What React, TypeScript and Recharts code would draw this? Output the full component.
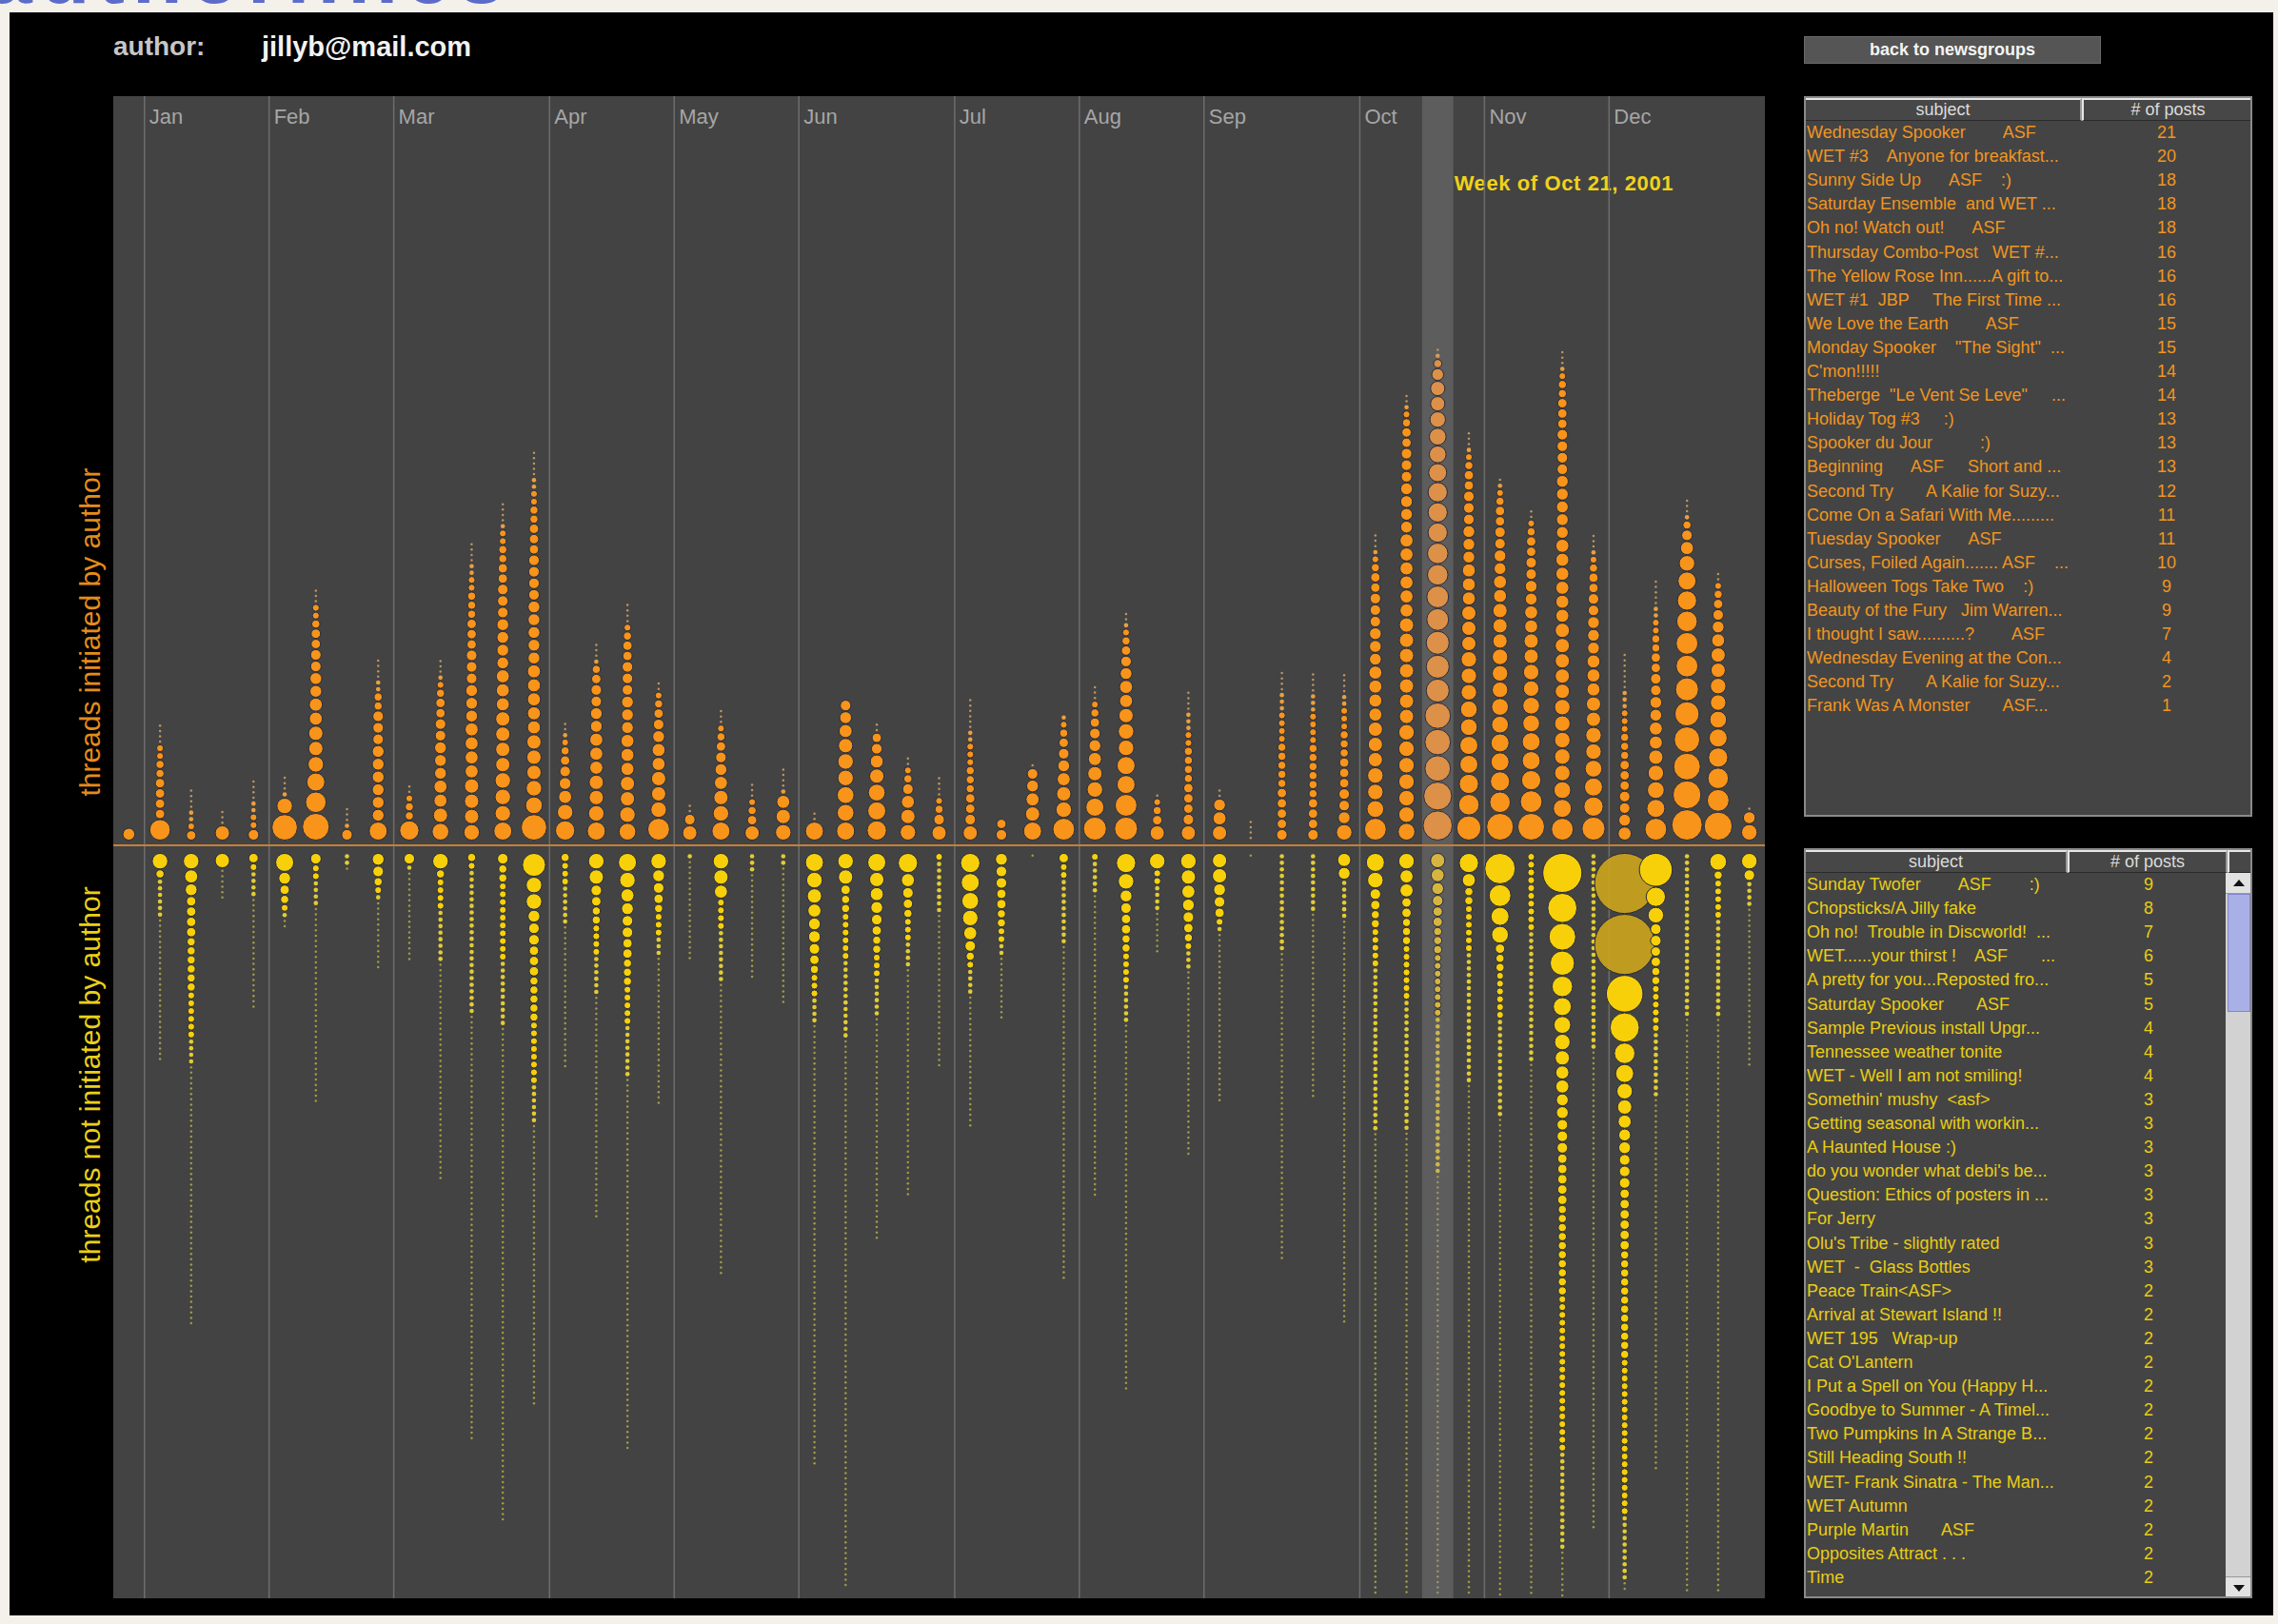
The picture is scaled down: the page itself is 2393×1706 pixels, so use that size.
import React from 'react';
import { ScatterChart, Scatter, XAxis, YAxis, ReferenceLine, ReferenceArea } from 'recharts';

// ---------------- data ----------------
const MONTHS = ['Jan', 'Feb', 'Mar', 'Apr', 'May', 'Jun', 'Jul', 'Aug', 'Sep', 'Oct', 'Nov', 'Dec'];
const MONTH_START_WEEK = [1, 5, 9, 14, 18, 22, 27, 31, 35, 40, 44, 48];
const WEEK_COUNT = 53;
const HIGHLIGHT_WEEK = 42;
const HIGHLIGHT_LABEL = 'Week of Oct 21, 2001';
const AUTHOR = 'jillyb@mail.com';

// posts per thread, per week ("v" or "v x count"); threads initiated by the author
const UPPER_THREADS: string[] = [
  '7',
  '14,5x4,4x2,3x2,1x4',
  '5,3,2x2,1x4',
  '9,1x3',
  '6,3x2,2x2,1x4',
  '18,10,2,1x3',
  '19,14,12,10,9x2,8x2,7x2,6x2,5x2,4,3x2,1x3',
  '6,2,1x3',
  '12,7x6,6x3,4x2,2x2,1x4',
  '13,4x2,3,1x2',
  '11,9,8x2,7x3,6x2,5x2,4,3,2,1x3',
  '10,9x3,8x4,7x3,6x3,5x3,4x3,3x2,2x2,1x4',
  '12,10x3,9x4,8x3,7x4,6x3,5x2,4x2,3x2,2,1x4',
  '18,11,10,9x3,8x5,7x5,6x4,5x3,4x2,3x2,2x2,1x5',
  '13,10,8,7,6,5,4,3,2,1x2',
  '12,10,9x2,8x3,7x2,6x2,5,4,2,1x3',
  '11,10,9x2,8x3,7x3,6x3,5x2,4,3,1x4',
  '15,10,9x2,8x2,7,6,5,4,3,1x2',
  '9,6,1x2',
  '12,10,9,8,7,6,5,4,3,1x3',
  '9,5,4,3,1x3',
  '10,9,8,2,1x4',
  '12,1x2',
  '12,11x2,10x2,9,8,7,6',
  '13,12,11,9,8,6,5,1x2',
  '10,9,8,6,4,3,1x2',
  '9,6,4,3,1x4',
  '9,6,5x2,4x3,3x3,2x2,1x6',
  '6,5',
  '12,9,8,7,6,1',
  '15,10,9,8,7,6,5,4,3,2',
  '16,12,10,9,8,7,6,5,4,3,1x3',
  '16,15,12x2,10x2,9,8x2,7,6,5,4,3,2,1x2',
  '9,5,4,3,1',
  '9,6,5x3,4x4,3x2,2x3,1x4',
  '9,8,7,1x2',
  '1x4',
  '6,5x4,4x5,3x4,2x3,1x4',
  '6,5x3,4x6,3x4,2x3,1x4',
  '10,7,6x2,5x3,4x3,3x3,2x2,1x4',
  '15,11,10x2,9x3,8x4,7x3,6x3,5x2,4,3,2,1x3',
  '11,10x6,9x7,8x6,7x4,6x3,5x2,4,3,2,1x2',
  '21,20,18x3,16x3,15x2,14x2,13x3,12,11x2,10,9x2,7,4,2,1',
  '17,14,13,12x2,11x2,10x3,9x3,8x3,7x3,6x3,5x2,4,3,2,1x3',
  '19,14,13,12x2,11x2,10x3,9x3,8x2,7x2,6x2,5x2,4,3,2,1',
  '19,15,13,12x2,11x2,10x2,9x2,8x2,7x2,6x2,5x2,4,3,1x2',
  '15,12,11,10x5,9x5,8x6,7x5,6x4,5x3,4x2,3,2,1x3',
  '16,13,12,11,10x2,9x2,8x3,7x3,6x2,5x2,4,3,2,1x3',
  '8,7,6x2,5x3,4x3,3x3,2x3,1x7',
  '15,12,11,10,9,8x2,7x2,6x2,5x2,4x2,3x2,2x2,1x5',
  '22,20,19,18,17,16,15x2,14,13,12,10,8,6,4,2,1x3',
  '20,15,14,13,12,11,10x2,9x2,8,7,6,5,4,3,1x2',
  '10,7,1',
];

// threads not initiated by the author
const LOWER_THREADS: string[] = [
  '',
  '10,4,2x6,1x27',
  '10,8,7,5x4,4x6,3x6,2x4,1x49',
  '9,1x6',
  '5,3,2x4,1x21',
  '12,7,5,4,3,2,1x2',
  '6,3x2,2x4,1x37',
  '2x2,1',
  '7,6,4,3,2,1x13',
  '6,2,1x17',
  '10,4,3x4,2x8,1x41',
  '4,3,2x22,1x80',
  '6,4x2,3x10,2x10,1x93',
  '16,10x2,7,6x2,5x3,4x5,3x8,2x6,1x53',
  '4,3x3,2x6,1x27',
  '10,9,6,5,4x2,3x4,2x6,1x42',
  '12,10,8,7,6x2,5x2,4x3,3x5,2x8,1x70',
  '10,7,6,5,4,3x3,2x3,1x28',
  '2,1x19',
  '10,9,8,3x4,2x8,1x55',
  '2x3,1x20',
  '2x2,1x26',
  '12,10,9,8,7x2,6,5,4,3x3,2x4,1x83',
  '10,9,5,4x2,3x6,2x12,1x103',
  '12,9,8,7,6,5,4x2,3x3,2x6,1x42',
  '13,8,6,5,4,3x3,2x4,1x43',
  '3,2x8,1x29',
  '13,12,11,10,8,6,4,3,2x4,1x25',
  '7,6x2,5x2,4x2,3x2,2x2,1x12',
  '1',
  '5,3x2,2x10,1x63',
  '3,2x5,1x57',
  '13,10,7,6,5x2,4x2,3x4,2x6,1x69',
  '10,3x2,2x4,1x8',
  '10,9,8,7,6,5,4,3,2x3,1x35',
  '9x2,7,6,5,3,2,1x32',
  '1',
  '2x15,1x58',
  '2x9,1x35',
  '8,7,2x6,1x76',
  '12,10,6,5,4x2,3x5,2x25,1x87',
  '10,8x2,5x2,4x3,3x7,2x20,1x87',
  '9,8,7,6,5x2,4x3,3x8,2x24,1x79',
  '13,8,4x2,3x6,2x20,1x96',
  '22,15,12,11,5,4x2,3x6,2x15,1x90',
  '3x10,2x20,1x100',
  '29,21,19,17,14,12,11,10,9,8x2,7x2,6x3,5x5,4x10,3x20,2x15,1x9',
  '2x30,1x90',
  '46x2,27,21,14,12,10,9,8,7x2,6x3,5x6,4x12,3x20,2x10,1x2',
  '24,13,10,6x2,5x2,4x2,3x6,2x10,1x70',
  '2x25,1x108',
  '11,4,3x5,2x15,1x108',
  '10,6,2x4,1x30',
];

const TOP_SUBJECTS = [
  'Wednesday Spooker        ASF',
  'WET #3    Anyone for breakfast...',
  'Sunny Side Up      ASF    :)',
  'Saturday Ensemble  and WET ...',
  'Oh no! Watch out!      ASF',
  'Thursday Combo-Post   WET #...',
  'The Yellow Rose Inn......A gift to...',
  'WET #1  JBP     The First Time ...',
  'We Love the Earth        ASF',
  'Monday Spooker    "The Sight"  ...',
  "C'mon!!!!!",
  'Theberge  "Le Vent Se Leve"     ...',
  'Holiday Tog #3     :)',
  'Spooker du Jour          :)',
  'Beginning      ASF     Short and ...',
  'Second Try       A Kalie for Suzy...',
  'Come On a Safari With Me.........',
  'Tuesday Spooker      ASF',
  'Curses, Foiled Again....... ASF    ...',
  'Halloween Togs Take Two    :)',
  'Beauty of the Fury   Jim Warren...',
  'I thought I saw..........?        ASF',
  'Wednesday Evening at the Con...',
  'Second Try       A Kalie for Suzy...',
  'Frank Was A Monster       ASF...',
];
const TOP_POSTS = [21, 20, 18, 18, 18, 16, 16, 16, 15, 15, 14, 14, 13, 13, 13, 12, 11, 11, 10, 9, 9, 7, 4, 2, 1];

const BOTTOM_SUBJECTS = [
  'Sunday Twofer        ASF        :)',
  'Chopsticks/A Jilly fake',
  'Oh no!  Trouble in Discworld!  ...',
  'WET......your thirst !    ASF       ...',
  'A pretty for you...Reposted fro...',
  'Saturday Spooker       ASF',
  'Sample Previous install Upgr...',
  'Tennessee weather tonite',
  'WET - Well I am not smiling!',
  "Somethin' mushy  <asf>",
  'Getting seasonal with workin...',
  'A Haunted House :)',
  "do you wonder what debi's be...",
  'Question: Ethics of posters in ...',
  'For Jerry',
  "Olu's Tribe - slightly rated",
  'WET  -  Glass Bottles',
  'Peace Train<ASF>',
  'Arrival at Stewart Island !!',
  'WET 195   Wrap-up',
  "Cat O'Lantern",
  'I Put a Spell on You (Happy H...',
  'Goodbye to Summer - A Timel...',
  'Two Pumpkins In A Strange B...',
  'Still Heading South !!',
  'WET- Frank Sinatra - The Man...',
  'WET Autumn',
  'Purple Martin       ASF',
  'Opposites Attract . . .',
  'Time',
];
const BOTTOM_POSTS = [9, 8, 7, 6, 5, 5, 4, 4, 4, 3, 3, 3, 3, 3, 3, 3, 3, 2, 2, 2, 2, 2, 2, 2, 2, 2, 2, 2, 2, 2];

// ---------------- layout / style ----------------
const PLOT_LEFT = 119;
const PLOT_TOP = 101;
const PLOT_W = 1735;
const PLOT_H = 1578;
const BASE_FROM_TOP = 787;
const PITCH_BASE = 4.3; // px per thread
const PITCH_PER_POST = 1.3; // px per post
const UP_OFFSET = 5;
const DOWN_OFFSET = 8;
const FONT = '"Liberation Sans", Arial, Helvetica, sans-serif';

type Pt = { x: number; y: number; n: number; p: number; week: number; up: boolean };

const expand = (spec: string): number[] =>
  spec.trim() === ''
    ? []
    : spec.split(',').flatMap((tok) => {
        const [v, c] = tok.split('x');
        return Array(c ? Number(c) : 1).fill(Number(v));
      });

function stack(specs: string[], up: boolean): Pt[] {
  const pts: Pt[] = [];
  specs.forEach((spec, week) => {
    let acc = up ? UP_OFFSET : DOWN_OFFSET;
    for (const n of expand(spec)) {
      const p = PITCH_BASE + PITCH_PER_POST * n;
      const y = acc + p / 2;
      pts.push({ x: week + 0.5, y: up ? y : -y, n, p, week, up });
      acc += p;
    }
  });
  return pts;
}

const upperPts = stack(UPPER_THREADS, true);
const lowerPts = stack(LOWER_THREADS, false);

const Dot = (props: any) => {
  const { cx, cy, payload } = props;
  if (cx == null || cy == null || !payload) return null;
  const p = payload as Pt;
  const hl = p.week === HIGHLIGHT_WEEK;
  let d = p.p - 0.9;
  if (p.n === 1) d = 2.5;
  else if (p.n === 2) d = 4.6;
  let fill: string;
  let op = 1;
  if (p.up) {
    fill = hl ? '#dc9048' : '#f8941a';
    if (p.n === 1) { fill = hl ? '#cfa27a' : '#dcaa6a'; op = 0.8; }
    else if (p.n === 2) { fill = hl ? '#d89a5a' : '#eaa040'; }
  } else {
    fill = hl ? '#d6b440' : '#f8d00a';
    if (p.n >= 40) { fill = '#c9a31e'; op = 0.93; }
    if (p.n === 1) { fill = hl ? '#b0a670' : '#bfb84a'; op = 0.75; }
    else if (p.n === 2) { fill = hl ? '#cdb650' : '#e2cc34'; }
  }
  return (
    <circle
      cx={cx}
      cy={cy}
      r={d / 2}
      fill={fill}
      fillOpacity={op}
      stroke={p.n >= 3 ? '#262b3c' : 'none'}
      strokeWidth={p.n >= 3 ? 1 : 0}
    />
  );
};

const monthLabel = (text: string) => (props: any) => {
  const vb = props.viewBox || {};
  return (
    <text x={(vb.x ?? 0) + 5} y={(vb.y ?? 0) + 29} fill="#a6a6a6" fontSize={22} fontFamily={FONT}>
      {text}
    </text>
  );
};

const weekLabel = (props: any) => {
  const vb = props.viewBox || {};
  return (
    <text
      x={(vb.x ?? 0) + (vb.width ?? 0) + 1}
      y={(vb.y ?? 0) + 99}
      fill="#f0d21a"
      fontSize={22}
      fontWeight={700}
      letterSpacing={0.6}
      fontFamily={FONT}
    >
      {HIGHLIGHT_LABEL}
    </text>
  );
};

const headerCell = (left: number, width: number, text: string): React.ReactNode => (
  <div
    style={{
      position: 'absolute',
      left,
      top: 0,
      width,
      height: 24,
      boxSizing: 'border-box',
      background: '#474747',
      borderTop: '2px solid #e6e6e6',
      borderLeft: '2px solid #e6e6e6',
      borderRight: '2px solid #9a9a9a',
      borderBottom: '1px solid #2a2a2a',
      color: '#dcdcdc',
      fontSize: 18,
      lineHeight: '21px',
      textAlign: 'center',
    }}
  >
    {text}
  </div>
);

function ThreadTable(props: {
  left: number; top: number; width: number; height: number;
  subjW: number; postsCenter: number; subjects: string[]; posts: number[]; color: string; scroll: boolean;
}) {
  const { left, top, width, height, subjW, postsCenter, subjects, posts, color, scroll } = props;
  const rowH = 25.1;
  const headTop = 24;
  const postsW = (scroll ? width - 28 : width) - subjW - 2;
  return (
    <div
      style={{
        position: 'absolute', left, top, width, height, background: '#444444',
        boxSizing: 'border-box', border: '2px solid #8a8a8a', overflow: 'hidden', fontFamily: FONT,
      }}
    >
      {headerCell(-2, subjW + 2, 'subject')}
      {headerCell(subjW, postsW + 2, '# of posts')}
      {scroll && headerCell(subjW + postsW + 2, 30, '')}
      {subjects.map((s, i) => (
        <div key={i}>
          <div
            style={{
              position: 'absolute', left: 1, top: headTop + i * rowH, width: subjW - 2, height: rowH,
              whiteSpace: 'pre', overflow: 'hidden', color, fontSize: 18, lineHeight: `${rowH}px`,
            }}
          >
            {s}
          </div>
          <div
            style={{
              position: 'absolute', left: postsCenter - 40, top: headTop + i * rowH, width: 80, height: rowH,
              textAlign: 'center', color, fontSize: 18, lineHeight: `${rowH}px`,
            }}
          >
            {posts[i]}
          </div>
        </div>
      ))}
      {scroll && (
        <div style={{ position: 'absolute', left: width - 30, top: 24, width: 28, height: height - 26, background: '#d2d2d2' }}>
          <div style={{ position: 'absolute', left: 0, top: 0, width: 28, height: 21, background: '#e2e2e2', borderBottom: '1px solid #999' }}>
            <svg width={28} height={21}><polygon points="8,14 20,14 14,7" fill="#111" /></svg>
          </div>
          <div style={{ position: 'absolute', left: 2, top: 22, width: 24, height: 124, background: '#a9b0e6', border: '1px solid #8088c8', boxSizing: 'border-box' }} />
          <div style={{ position: 'absolute', left: 0, bottom: 0, width: 28, height: 22, background: '#e2e2e2', borderTop: '1px solid #999' }}>
            <svg width={28} height={22}><polygon points="8,8 20,8 14,15" fill="#111" /></svg>
          </div>
        </div>
      )}
    </div>
  );
}

export default function App() {
  const yDomain: [number, number] = [-(PLOT_H - BASE_FROM_TOP), BASE_FROM_TOP];
  return (
    <div
      style={{
        position: 'fixed', left: 0, top: 0, width: 2393, height: 1706, background: '#f3f1ea',
        overflow: 'hidden', fontFamily: FONT,
      }}
    >
      <div
        style={{
          position: 'absolute', left: -14, top: -70, fontSize: 86, lineHeight: '86px', fontWeight: 700,
          color: '#5d6cc8', letterSpacing: 8, whiteSpace: 'nowrap',
        }}
      >
        authorlines
      </div>
      <div style={{ position: 'absolute', left: 10, top: 13, width: 2378, height: 1684, background: '#000' }} />

      <div style={{ position: 'absolute', left: 119, top: 33, fontSize: 28, fontWeight: 700, color: '#c6c6c6' }}>author:</div>
      <div style={{ position: 'absolute', left: 275, top: 33, fontSize: 29, fontWeight: 700, color: '#f2f2f2' }}>{AUTHOR}</div>

      <div
        style={{
          position: 'absolute', left: 95, top: 664, transform: 'translate(-50%, -50%) rotate(-90deg)',
          whiteSpace: 'nowrap', color: '#e48c1c', fontSize: 30,
        }}
      >
        threads initiated by author
      </div>
      <div
        style={{
          position: 'absolute', left: 95, top: 1129, transform: 'translate(-50%, -50%) rotate(-90deg)',
          whiteSpace: 'nowrap', color: '#ead018', fontSize: 30,
        }}
      >
        threads not initiated by author
      </div>

      <div style={{ position: 'absolute', left: PLOT_LEFT, top: PLOT_TOP, width: PLOT_W, height: PLOT_H, background: '#434343' }}>
        <ScatterChart width={PLOT_W} height={PLOT_H} margin={{ top: 0, right: 0, bottom: 0, left: 0 }}>
          <XAxis type="number" dataKey="x" domain={[0, WEEK_COUNT]} hide allowDataOverflow />
          <YAxis type="number" dataKey="y" domain={yDomain} hide allowDataOverflow />
          <ReferenceArea
            x1={HIGHLIGHT_WEEK}
            x2={HIGHLIGHT_WEEK + 1}
            y1={yDomain[0]}
            y2={yDomain[1]}
            fill="#5d5d5d"
            fillOpacity={1}
            stroke="none"
            label={weekLabel}
          />
          {MONTH_START_WEEK.map((w, i) => (
            <ReferenceLine key={MONTHS[i]} x={w} stroke="#6d6d6d" strokeWidth={1.5} label={monthLabel(MONTHS[i])} />
          ))}
          <ReferenceLine y={0} stroke="#c4803a" strokeWidth={2} />
          <Scatter data={upperPts} shape={Dot} isAnimationActive={false} />
          <Scatter data={lowerPts} shape={Dot} isAnimationActive={false} />
        </ScatterChart>
      </div>

      <div
        style={{
          position: 'absolute', left: 1895, top: 38, width: 312, height: 29, background: '#555555',
          border: '1px solid #6a6a6a', boxSizing: 'border-box', color: '#f4f4f4', fontWeight: 700,
          fontSize: 18, lineHeight: '27px', textAlign: 'center',
        }}
      >
        back to newsgroups
      </div>

      <ThreadTable
        left={1895} top={101} width={471} height={757} subjW={290} postsCenter={379}
        subjects={TOP_SUBJECTS} posts={TOP_POSTS} color="#f0951f" scroll={false}
      />
      <ThreadTable
        left={1895} top={891} width={471} height={788} subjW={275} postsCenter={360}
        subjects={BOTTOM_SUBJECTS} posts={BOTTOM_POSTS} color="#e9cd14" scroll={true}
      />
    </div>
  );
}
